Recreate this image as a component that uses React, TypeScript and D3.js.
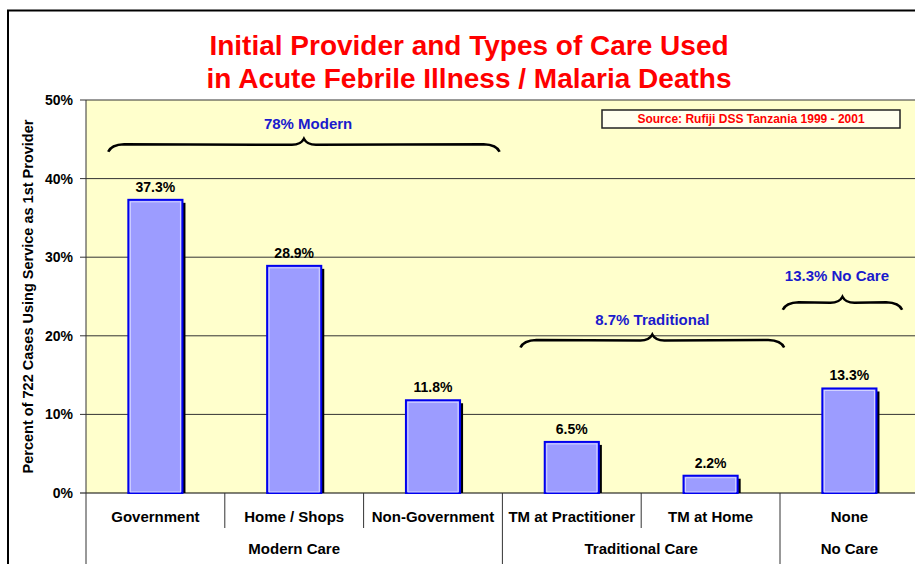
import React from 'react';
import * as d3 from 'd3';

const categories = ['Government', 'Home / Shops', 'Non-Government', 'TM at Practitioner', 'TM at Home', 'None'];
const values = [37.3, 28.9, 11.8, 6.5, 2.2, 13.3];
const groups = ['Modern Care', 'Traditional Care', 'No Care'];
const groupSizes = [3, 2, 1];
const yTicks = [0, 10, 20, 30, 40, 50];

// braces: span in category units, y in percent
const braceLabels = ['78% Modern', '8.7% Traditional', '13.3% No Care'];
const braceStart = [0.16, 3.13, 5.02];
const braceEnd = [2.98, 5.03, 5.88];
const braceLevel = [44.3, 19.4, 24.2];
const braceLabelLevel = [47.0, 22.0, 27.7];
const braceLabelAt = [1.6, 4.08, 5.41];

const W = 915;
const H = 564;
const left = 86;
const step = 138.8;
const top = 100;
const bottom = 493;

const font = '"Liberation Sans", Arial, sans-serif';

function bracePath(x1: number, x2: number, y: number) {
  const xm = (x1 + x2) / 2;
  return `M${x1},${y + 7} Q${x1 + 3},${y} ${x1 + 16},${y - 0.5} L${xm - 12},${y}` +
    ` Q${xm - 3},${y} ${xm},${y - 6} Q${xm + 3},${y} ${xm + 12},${y}` +
    ` L${x2 - 16},${y - 0.5} Q${x2 - 3},${y} ${x2},${y + 7}`;
}

export default function App() {
  const x = d3.scaleBand<string>()
      .domain(categories)
      .range([left, left + step * categories.length])
      .padding(0);
  const xu = d3.scaleLinear().domain([0, categories.length]).range([left, left + step * categories.length]);
  const y = d3.scaleLinear().domain([0, 50]).range([bottom, top]);
  const bw = x.bandwidth() * 0.39;

  const groupEdges: number[] = [0];
  groupSizes.forEach((s, i) => groupEdges.push(groupEdges[i] + s));

  return (
    <svg width={W} height={H} style={{position: 'absolute', left: 0, top: 0, background: '#fff'}}
      fontFamily={font}>
      <rect x={0} y={0} width={W} height={H} fill="#fff" />
      {/* outer frame */}
      <path d={`M8,${H} L8,10.5 L${W},10.5`} fill="none" stroke="#000" strokeWidth={2} />

      {/* title */}
      <g fill="#ff0000" fontWeight="bold" fontSize={28} textAnchor="middle"
        fontFamily='"Liberation Sans Narrow", "Arial Narrow", "Liberation Sans", sans-serif'>
        <text x={469} y={55}>Initial Provider and Types of Care Used</text>
        <text x={469} y={88}>in Acute Febrile Illness / Malaria Deaths</text>
      </g>

      {/* plot area */}
      <rect x={left} y={top} width={W - left + 10} height={bottom - top} fill="#ffffcc" />
      {yTicks.map((t) => (
        <g key={t}>
          <line x1={80} x2={W} y1={y(t)} y2={y(t)} stroke={t === 0 ? '#000' : '#333'} strokeWidth={1} />
          <text x={73} y={y(t)} dy="0.35em" textAnchor="end" fontSize={14} fontWeight="bold">{t}%</text>
        </g>
      ))}
      <line x1={left} x2={left} y1={top} y2={bottom} stroke="#333" />

      {/* y title */}
      <text transform={`translate(33,${(top + bottom) / 2}) rotate(-90)`} textAnchor="middle"
        fontSize={14.5} fontWeight="bold">Percent of 722 Cases Using Service as 1st Provider</text>

      {/* source box */}
      <rect x={602} y={110} width={298} height={18} fill="#ffffee" stroke="#222" strokeWidth={1.5} />
      <text x={751} y={119} dy="0.35em" textAnchor="middle" fill="#ff0000" fontSize={12} fontWeight="bold">
        Source: Rufiji DSS Tanzania 1999 - 2001</text>

      {/* bars */}
      {categories.map((c, i) => {
        const cx = (x(c) as number) + x.bandwidth() / 2;
        const x0 = cx - bw / 2;
        const y0 = y(values[i]);
        const h = bottom - y0;
        return (
          <g key={c}>
            <rect x={x0 + 3} y={y0 + 3} width={bw} height={h - 3} fill="#000" />
            <rect x={x0} y={y0} width={bw} height={h} fill="#9c9cff" stroke="#0000ee" strokeWidth={2} />
            <rect x={x0 + 2} y={y0 + 2} width={bw - 4} height={h - 3} fill="none" stroke="#d4d4ff" strokeWidth={1} />
            <text x={cx} y={y0 - 8} textAnchor="middle" fontSize={14} fontWeight="bold">{values[i].toFixed(1)}%</text>
          </g>
        );
      })}

      {/* category axis */}
      {categories.map((c) => (
        <text key={c} x={(x(c) as number) + x.bandwidth() / 2} y={522} textAnchor="middle"
          fontSize={15} fontWeight="bold">{c}</text>
      ))}
      {d3.range(categories.length + 1).map((i) => {
        const isGroup = groupEdges.includes(i);
        return <line key={i} x1={xu(i)} x2={xu(i)} y1={bottom} y2={isGroup ? H : 528}
          stroke="#333" strokeWidth={1} />;
      })}
      {groups.map((g, i) => (
        <text key={g} x={xu((groupEdges[i] + groupEdges[i + 1]) / 2)} y={554} textAnchor="middle"
          fontSize={15} fontWeight="bold">{g}</text>
      ))}

      {/* braces */}
      {braceLabels.map((lab, i) => {
        const x1 = xu(braceStart[i]);
        const x2 = xu(braceEnd[i]);
        return (
          <g key={lab}>
            <path d={bracePath(x1, x2, y(braceLevel[i]))} fill="none" stroke="#000" strokeWidth={2.5} />
            <text x={xu(braceLabelAt[i])} y={y(braceLabelLevel[i])} dy="0.35em" textAnchor="middle"
              fill="#1a1acc" fontSize={15} fontWeight="bold">{lab}</text>
          </g>
        );
      })}
    </svg>
  );
}
